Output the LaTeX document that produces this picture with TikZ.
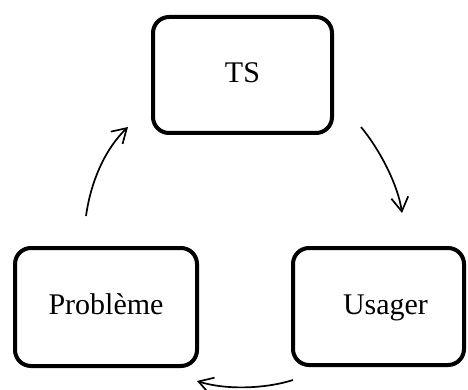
\documentclass[tikz,border=0pt]{standalone}
\usepackage{fontspec}
\setmainfont{Liberation Serif}
\usetikzlibrary{arrows.meta}
\begin{document}
\begin{tikzpicture}[x=1pt,y=-1pt,
  boxnode/.style={draw=black, line width=4pt, rounded corners=16pt, inner sep=0pt,
    text height=21pt, text depth=6pt,
    font=\fontsize{30}{36}\selectfont},
  flowarrow/.style={line width=1.7pt, -{Straight Barb[length=14pt,width=17pt,line width=1.7pt]}}]
\useasboundingbox (0,0) rectangle (468,390);
\node[boxnode, minimum width=179pt, minimum height=116pt] (ts) at (242.5,75) {TS};
\node[boxnode, minimum width=182pt, minimum height=118pt] (pb) at (106,307) {Problème};
\node[boxnode, minimum width=171pt, minimum height=117pt] (us) at (378.5,306.5) {\hspace*{14pt}Usager};
\coordinate (a1s) at (361,127);
\coordinate (a1e) at (402,213);
\coordinate (a2s) at (293,380);
\coordinate (a2e) at (197,381);
\coordinate (a3s) at (86,216);
\coordinate (a3e) at (128,127);
\draw[flowarrow] (a1s) .. controls (380,150) and (398,185) .. (a1e);
\draw[flowarrow] (a2s) .. controls (265,389) and (225,390) .. (a2e);
\draw[flowarrow] (a3s) .. controls (91,180) and (106,148) .. (a3e);
\end{tikzpicture}
\end{document}
